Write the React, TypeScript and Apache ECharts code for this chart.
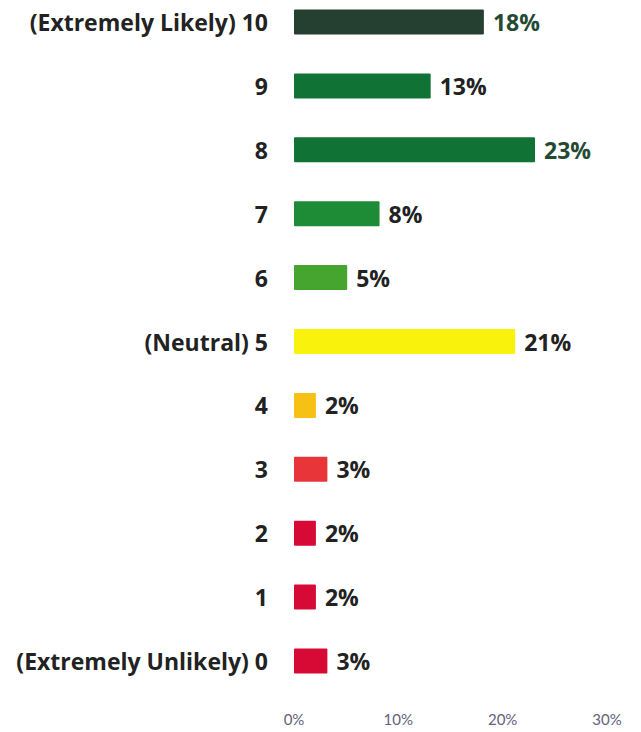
import React, { useEffect, useRef } from "react";
import * as echarts from "echarts";

const categories = [
  "(Extremely Likely) 10",
  "9",
  "8",
  "7",
  "6",
  "(Neutral) 5",
  "4",
  "3",
  "2",
  "1",
  "(Extremely Unlikely) 0",
];
const values = [18.2, 13.1, 23.1, 8.2, 5.1, 21.2, 2.1, 3.2, 2.1, 2.1, 3.2];
const labels = ["18%", "13%", "23%", "8%", "5%", "21%", "2%", "3%", "2%", "2%", "3%"];
const barColors = [
  "#253f31",
  "#107235",
  "#107235",
  "#1e8c36",
  "#45a52e",
  "#f8f20c",
  "#f6c015",
  "#e8353a",
  "#d70935",
  "#d70935",
  "#d70935",
];
const labelColors = [
  "#244a33",
  "#222222",
  "#244a33",
  "#222222",
  "#222222",
  "#222222",
  "#222222",
  "#222222",
  "#222222",
  "#222222",
  "#222222",
];
const tickValues = [0, 10, 20, 30];

export default function App() {
  const ref = useRef<HTMLDivElement>(null);
  useEffect(() => {
    if (!ref.current) return;
    const chart = echarts.init(ref.current, null, { renderer: "svg" });
    chart.setOption({
      animation: false,
      backgroundColor: "#ffffff",
      grid: { left: 294, right: 34, top: 22, bottom: 71, containLabel: false },
      xAxis: {
        type: "value",
        min: tickValues[0],
        max: tickValues[tickValues.length - 1],
        interval: 10,
        axisLine: { show: false },
        axisTick: { show: false },
        splitLine: { show: false },
        axisLabel: {
          margin: 50,
          formatter: (v: number) => v + "%",
          color: "#62627a",
          fontSize: 15,
          fontFamily: "Lato, 'Open Sans', sans-serif",
        },
      },
      yAxis: {
        type: "category",
        inverse: true,
        data: categories,
        boundaryGap: false,
        axisLine: { show: false },
        axisTick: { show: false },
        splitLine: { show: false },
        axisLabel: {
          margin: 26,
          color: "#222222",
          fontSize: 23,
          fontWeight: "bold",
          fontFamily: "'Open Sans', sans-serif",
        },
      },
      series: [
        {
          type: "bar",
          barWidth: 25,
          data: values.map((v, i) => ({
            value: v,
            itemStyle: { color: barColors[i], borderRadius: 1 },
            label: { color: labelColors[i] },
          })),
          label: {
            show: true,
            position: "right",
            distance: 9,
            fontSize: 23,
            fontWeight: "bold",
            fontFamily: "'Open Sans', sans-serif",
            formatter: (p: any) => labels[p.dataIndex],
          },
        },
      ],
    });
    return () => chart.dispose();
  }, []);
  return <div ref={ref} style={{ width: 641, height: 732, position: "absolute", left: 0, top: 0 }} />;
}
